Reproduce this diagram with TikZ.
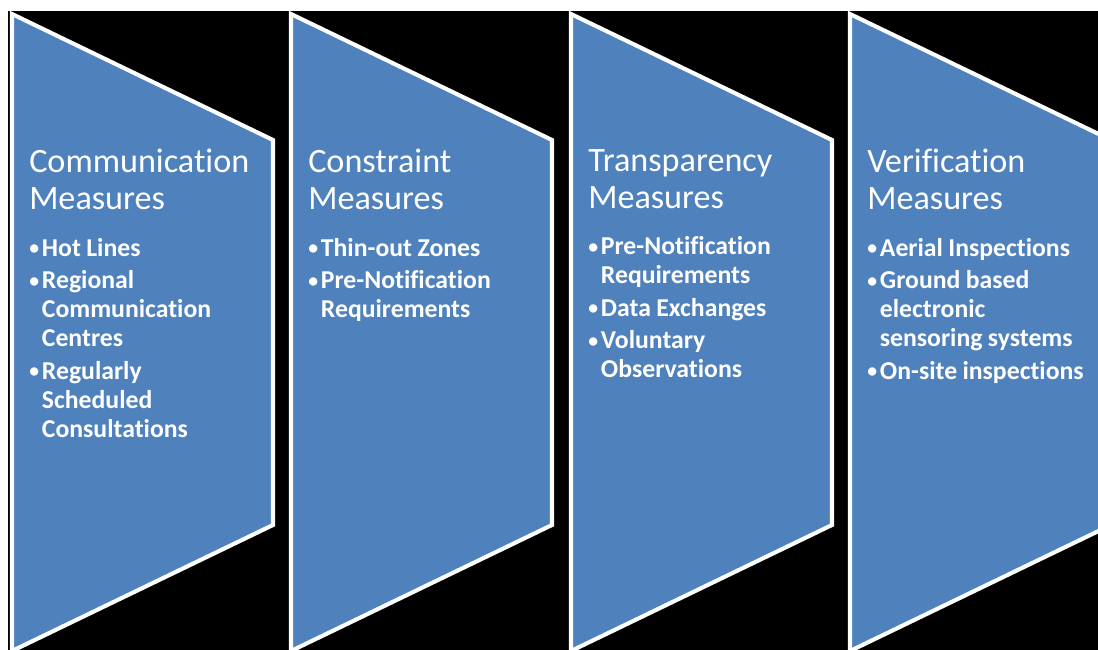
\documentclass[tikz,border=0pt]{standalone}
\usepackage{fontspec}
\setmainfont{Carlito}[Ligatures=NoCommon]
\usetikzlibrary{positioning}
\definecolor{panelblue}{RGB}{79,129,189}
% one bullet item, continuation lines hang under the text
\newcommand\itm[1]{\par\hangindent=9pt\hangafter=1\noindent
  \makebox[9pt][l]{\raisebox{1pt}{\fontsize{14}{14}\selectfont\textbullet}}#1\par}

\begin{document}
\begin{tikzpicture}[%
    x=0.025cm, y=-0.025cm,      % one unit is one pixel of the slide
    node distance=3.3mm,
    ]
% -------------------------------------------------
% Styles for the four columns
\tikzset{
  panel/.style={draw=white, line width=2.9pt, fill=panelblue, line join=miter},
  head/.style={anchor=north west, inner sep=0pt, text=white, text width=6.2cm,
    align=left, font=\fontsize{24.3}{26.3}\selectfont},
  list/.style={inner sep=0pt, text=white, text width=6.2cm, align=left,
    font=\bfseries\fontsize{18.3}{20.6}\selectfont,
    execute at begin node={\setlength{\parskip}{2.5pt}%
      \spaceskip=0.21em plus 0.05em\relax}}
}
% -------------------------------------------------
% Slide area
\useasboundingbox (0,0) rectangle (1098,650);
\fill [black] (8,11) rectangle (1098,650);
\clip (8,11) rectangle (1098,650);

% The arrow shaped panels
\draw [panel] (12,14)  -- (273,140)  -- (273,525)  -- (12,651)  -- cycle;
\draw [panel] (291,14) -- (552,140)  -- (552,525)  -- (291,651) -- cycle;
\draw [panel] (571,14) -- (832,140)  -- (832,525)  -- (571,651) -- cycle;
\draw [panel] (850,14) -- (1111,140) -- (1111,525) -- (850,651) -- cycle;

% -------------------------------------------------
% Headings and their lists
\node [head] (t1) at (29,149) {Communication\newline Measures};
\node [list, below=of t1.south west, anchor=north west] (l1) {%
  \itm{Hot Lines}
  \itm{Regional\newline Communication\newline Centres}
  \itm{Regularly\newline Scheduled\newline Consultations}};

\node [head] (t2) at (308,149) {Constraint\newline Measures};
\node [list, below=of t2.south west, anchor=north west] (l2) {%
  \itm{Thin-out Zones}
  \itm{Pre-Notification\newline Requirements}};

\node [head] (t3) at (588,149) {Transparency\newline Measures};
\node [list, below=of t3.south west, anchor=north west] (l3) {%
  \itm{Pre-Notification\newline Requirements}
  \itm{Data Exchanges}
  \itm{Voluntary\newline Observations}};

\node [head] (t4) at (867,149) {Verification\newline Measures};
\node [list, below=of t4.south west, anchor=north west] (l4) {%
  \itm{Aerial Inspections}
  \itm{Ground based\newline electronic\newline sensoring systems}
  \itm{On-site inspections}};
% -------------------------------------------------
\end{tikzpicture}
\end{document}
